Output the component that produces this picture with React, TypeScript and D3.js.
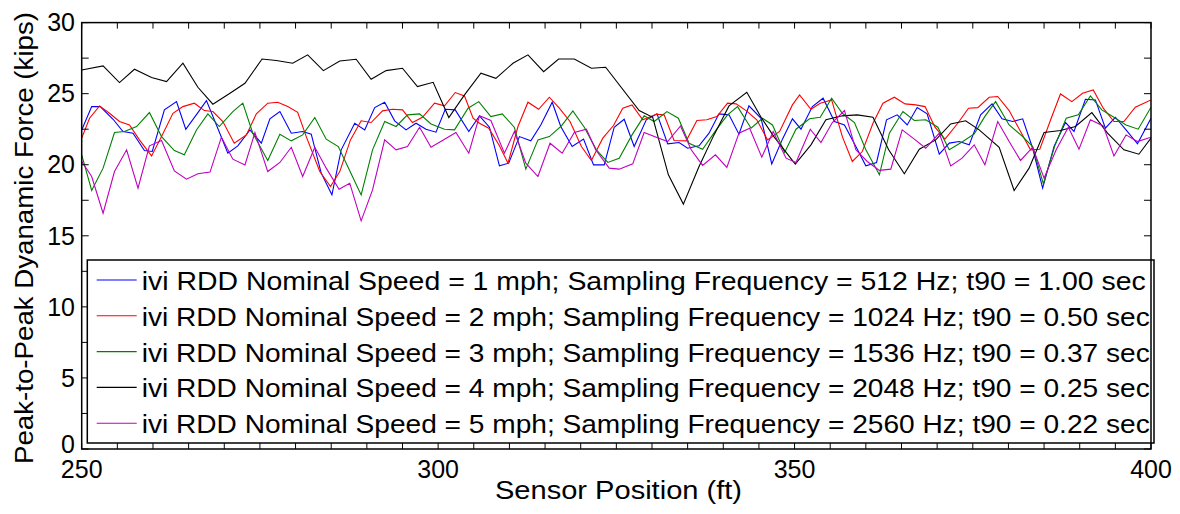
import React from 'react';
import * as d3 from 'd3';

type Pt = [number, number];

// [sensor position (ft), peak-to-peak dynamic force (kips)]
const speed1mph: Pt[] = [[250.0,22.45],[251.4,24.09],[252.6,24.09],[254.4,23.20],[255.8,22.34],[257.2,22.22],[258.8,21.00],[259.9,20.93],[261.6,23.86],[263.3,24.44],[264.6,22.50],[266.3,23.67],[267.5,24.51],[268.9,22.80],[270.5,20.81],[271.9,21.33],[273.6,22.45],[275.2,21.52],[276.4,23.23],[277.8,23.74],[279.4,22.22],[281.0,22.34],[282.2,22.15],[283.6,19.41],[285.1,17.88],[286.4,21.05],[288.3,22.92],[289.7,22.45],[291.1,24.02],[292.5,24.40],[293.9,23.09],[295.5,22.45],[296.9,22.92],[298.3,22.50],[299.7,22.29],[301.0,23.90],[302.4,23.86],[304.3,22.34],[305.8,23.44],[307.2,22.64],[308.6,19.92],[309.9,20.11],[311.4,21.98],[313.0,21.68],[314.4,22.80],[316.0,24.40],[317.2,22.69],[318.8,21.28],[320.4,21.80],[321.8,19.99],[323.3,19.99],[324.7,22.64],[326.1,23.20],[327.5,21.28],[329.2,23.16],[330.7,23.58],[332.2,21.47],[333.8,21.56],[335.0,21.16],[336.6,21.33],[338.0,22.22],[339.4,23.58],[340.8,23.51],[342.2,22.15],[343.6,24.14],[345.3,23.27],[346.8,20.06],[348.3,21.80],[349.7,23.23],[350.9,22.50],[352.5,24.09],[354.0,24.68],[355.6,23.04],[357.0,22.80],[358.6,21.28],[360.0,19.92],[361.5,20.16],[362.9,23.16],[364.4,23.51],[365.8,22.80],[367.2,24.02],[368.6,23.58],[370.3,20.74],[371.7,21.52],[373.1,21.63],[374.5,21.40],[376.1,23.51],[377.7,24.28],[379.1,23.23],[380.6,23.04],[382.0,23.23],[383.4,21.16],[384.8,18.35],[386.4,21.28],[388.0,22.97],[389.2,22.34],[390.8,24.61],[392.2,24.56],[393.6,22.57],[395.0,23.34],[396.5,22.45],[398.1,21.47],[400.0,23.27]];

const speed2mph: Pt[] = [[250.0,21.87],[251.1,23.27],[252.5,24.14],[253.9,23.62],[255.3,23.04],[256.7,22.80],[258.1,21.75],[259.8,20.62],[261.2,21.98],[262.8,23.62],[264.2,24.09],[265.8,24.33],[267.2,23.81],[268.4,23.74],[269.8,23.04],[271.4,21.51],[273.1,22.10],[274.5,23.58],[276.1,24.33],[277.5,24.40],[278.9,24.09],[280.3,23.69],[281.5,21.98],[283.4,19.52],[284.9,18.47],[286.2,19.52],[287.7,21.75],[289.2,23.09],[290.6,22.97],[292.2,23.79],[293.6,23.90],[295.0,23.86],[296.4,22.97],[297.8,23.34],[299.5,24.33],[300.9,24.14],[302.4,25.08],[303.7,24.84],[304.9,23.27],[305.8,22.92],[307.1,22.57],[308.6,21.33],[309.8,20.11],[311.2,22.69],[312.6,24.40],[314.1,23.90],[315.6,24.75],[317.0,23.98],[318.5,23.04],[320.1,21.28],[321.5,20.30],[323.1,21.87],[324.6,22.76],[325.9,23.98],[327.2,24.21],[328.7,23.16],[330.6,23.55],[331.7,23.51],[333.1,21.70],[334.8,21.68],[336.3,23.11],[337.7,23.16],[339.1,23.39],[340.6,24.33],[341.8,24.28],[343.2,23.81],[344.7,23.16],[346.2,21.75],[347.9,22.34],[349.7,24.21],[350.7,24.91],[352.3,23.90],[353.6,24.33],[355.2,24.56],[356.7,21.98],[358.1,20.23],[359.5,20.93],[361.0,22.92],[362.4,24.33],[364.0,24.75],[365.5,24.28],[367.0,24.21],[368.3,24.09],[369.7,22.64],[371.1,21.80],[372.9,22.92],[374.4,23.98],[375.7,24.02],[377.3,24.75],[378.5,24.80],[380.1,23.81],[381.7,22.34],[383.1,21.05],[384.4,21.09],[386.0,23.27],[387.3,24.98],[388.9,24.44],[390.4,25.03],[391.9,25.26],[393.3,23.98],[394.8,23.04],[396.2,23.04],[397.8,24.05],[400.0,24.56]];

const speed3mph: Pt[] = [[250.0,20.70],[251.4,18.19],[253.0,19.76],[254.6,22.27],[256.0,22.34],[257.7,22.69],[259.5,23.67],[261.2,21.98],[263.0,21.00],[264.4,20.70],[266.1,22.45],[267.7,23.58],[269.3,22.69],[271.2,23.74],[272.6,24.33],[274.0,22.22],[276.1,20.30],[277.8,22.15],[279.4,21.68],[281.0,22.10],[282.7,23.32],[284.3,21.80],[286.0,21.28],[287.6,19.57],[289.2,17.88],[290.8,21.05],[292.5,23.04],[294.1,22.69],[295.7,23.51],[297.4,23.58],[299.0,22.87],[300.9,22.50],[302.3,22.45],[304.2,23.98],[305.7,24.44],[307.4,23.39],[309.0,23.58],[310.7,22.62],[312.3,19.69],[314.0,21.75],[315.6,21.98],[317.3,22.73],[318.9,23.79],[320.5,22.64],[322.2,21.05],[323.8,20.16],[325.4,20.46],[327.2,22.10],[328.9,23.44],[330.3,23.04],[332.1,23.74],[333.7,23.27],[335.2,21.51],[337.1,21.09],[339.0,22.45],[340.6,23.51],[342.0,24.09],[343.9,22.57],[345.5,23.27],[346.9,22.80],[348.6,20.86],[350.2,22.50],[352.1,23.23],[353.6,23.34],[355.2,24.68],[356.7,23.62],[358.4,22.97],[360.0,21.05],[361.9,19.29],[363.3,22.22],[365.2,23.74],[366.8,23.11],[368.4,23.16],[370.1,22.64],[371.7,21.05],[373.6,21.63],[375.2,22.17],[376.7,23.40],[378.2,24.44],[380.1,22.80],[382.0,21.98],[383.4,21.28],[384.9,18.66],[386.5,21.33],[388.1,23.27],[389.8,23.51],[391.5,24.84],[393.1,23.86],[394.8,23.34],[396.5,22.80],[398.2,22.50],[400.0,24.05]];

const speed4mph: Pt[] = [[250.0,26.67],[253.0,26.95],[255.3,25.78],[257.4,26.72],[259.8,26.13],[261.9,25.85],[264.2,27.14],[266.3,25.45],[268.4,24.26],[270.8,25.03],[272.9,25.73],[275.3,27.44],[277.3,27.33],[279.6,27.14],[281.7,27.73],[283.9,26.62],[286.2,27.30],[288.5,27.42],[290.6,26.01],[292.7,26.62],[295.0,26.79],[297.1,25.50],[299.3,25.80],[301.5,23.32],[303.7,24.91],[306.0,26.44],[308.1,26.08],[310.5,27.14],[312.6,27.73],[314.8,26.55],[316.9,27.44],[319.1,27.44],[321.5,26.79],[323.5,26.86],[328.2,23.81],[330.1,23.34],[332.3,19.29],[334.4,17.23],[336.6,19.87],[338.7,22.10],[340.8,24.14],[343.3,25.10],[345.3,23.34],[347.1,21.98],[350.1,20.05],[352.3,21.40],[354.4,23.16],[356.7,23.44],[358.8,23.51],[361.0,23.34],[363.2,21.05],[365.4,19.36],[367.5,21.09],[369.8,21.75],[371.9,22.87],[374.0,23.09],[375.9,22.45],[378.7,21.23],[380.8,18.19],[382.9,19.76],[385.0,22.27],[387.3,22.41],[389.4,22.69],[391.7,23.67],[393.9,22.22],[396.2,21.05],[398.3,20.74],[400.0,21.87]];

const speed5mph: Pt[] = [[250.0,20.23],[251.4,19.17],[253.0,16.59],[254.6,19.52],[256.3,21.05],[257.9,18.35],[259.5,21.33],[261.2,21.70],[263.0,19.57],[264.7,18.98],[266.3,19.36],[268.0,19.48],[269.6,21.94],[271.2,20.39],[272.9,19.99],[274.3,22.27],[276.1,19.52],[277.8,20.16],[279.4,21.23],[281.0,19.17],[282.7,21.23],[284.3,19.76],[286.1,18.28],[287.6,18.70],[289.2,16.05],[290.8,18.23],[292.5,21.75],[294.1,21.05],[295.7,21.28],[297.4,22.64],[299.0,21.23],[302.5,22.27],[304.3,20.81],[305.8,23.44],[307.4,23.11],[309.3,20.81],[310.7,22.34],[312.3,20.11],[314.0,19.17],[315.7,21.51],[317.4,20.81],[319.1,22.27],[320.8,22.50],[322.1,21.05],[324.0,19.76],[325.4,19.69],[327.3,20.06],[328.9,22.27],[330.6,21.94],[332.2,21.63],[334.0,22.73],[335.5,21.05],[337.1,19.95],[338.9,20.70],[340.5,19.81],[342.2,22.22],[343.7,22.57],[345.4,20.53],[347.0,22.34],[348.8,20.46],[350.2,20.16],[352.2,22.50],[353.7,21.56],[355.3,22.97],[357.0,23.81],[358.6,21.05],[360.2,20.23],[361.9,19.60],[363.5,19.69],[365.1,22.45],[366.8,21.80],[368.4,21.16],[370.3,22.22],[371.9,19.92],[373.5,20.46],[375.2,21.40],[376.7,19.99],[378.5,23.04],[380.1,21.63],[381.7,20.30],[383.4,21.23],[385.0,19.06],[386.7,21.05],[388.4,22.64],[389.9,21.09],[391.5,23.16],[393.3,22.73],[394.8,20.62],[396.5,22.10],[398.1,21.63],[400.0,21.94]];

const seriesLabels: string[] = [
  'ivi RDD Nominal Speed = 1 mph; Sampling Frequency = 512 Hz; t90 = 1.00 sec',
  'ivi RDD Nominal Speed = 2 mph; Sampling Frequency = 1024 Hz; t90 = 0.50 sec',
  'ivi RDD Nominal Speed = 3 mph; Sampling Frequency = 1536 Hz; t90 = 0.37 sec',
  'ivi RDD Nominal Speed = 4 mph; Sampling Frequency = 2048 Hz; t90 = 0.25 sec',
  'ivi RDD Nominal Speed = 5 mph; Sampling Frequency = 2560 Hz; t90 = 0.22 sec',
];
const seriesColors: string[] = ['#0000ff', '#ff0000', '#008000', '#000000', '#bf00bf'];
const seriesData: Pt[][] = [speed1mph, speed2mph, speed3mph, speed4mph, speed5mph];

const yTickLabels: number[] = [0, 5, 10, 15, 20, 25, 30];
const xTickLabels: number[] = [250, 300, 350, 400];
const xAxisTitle = 'Sensor Position (ft)';
const yAxisTitle = 'Peak-to-Peak Dyanamic Force (kips)';

const FONT = '"Liberation Sans", Arial, Helvetica, sans-serif';

export default function App() {
  const W = 1180, H = 514;
  const left = 81.7, right = 1151, top = 22.6, bottom = 449;
  const x = d3.scaleLinear().domain([250, 400]).range([left, right]);
  const y = d3.scaleLinear().domain([0, 30]).range([bottom, top]);
  const line = d3.line<Pt>().x(d => x(d[0])).y(d => y(d[1]));
  const yMinor = d3.range(0, 30.001, 2.5);
  const xMinor = d3.range(250, 400.001, 5);

  const legL = 87.3, legR = 1154, legT = 260, legB = 443;
  const rowY0 = 280, rowStep = 35.8;

  return (
    <svg width={W} height={H} viewBox={`0 0 ${W} ${H}`}
      style={{ position: 'absolute', left: 0, top: 0, background: '#fff' }}
      fontFamily={FONT}>
      <rect x={0} y={0} width={W} height={H} fill="#fff" />
      <defs>
        <clipPath id="plotclip">
          <rect x={left} y={top} width={right - left} height={bottom - top} />
        </clipPath>
      </defs>

      {/* series lines */}
      <g clipPath="url(#plotclip)">
        {seriesData.map((d, i) => (
          <path key={i} d={line(d) || ''} fill="none" stroke={seriesColors[i]} strokeWidth={1.1} strokeLinejoin="miter" />
        ))}
      </g>

      {/* ticks */}
      <g stroke="#000" strokeWidth={1}>
        {yMinor.map(v => (
          <g key={'y' + v}>
            <line x1={left} x2={left + 7} y1={y(v)} y2={y(v)} />
            <line x1={right} x2={right - 7} y1={y(v)} y2={y(v)} />
          </g>
        ))}
        {xMinor.map(v => (
          <g key={'x' + v}>
            <line x1={x(v)} x2={x(v)} y1={bottom} y2={bottom - 6} />
            <line x1={x(v)} x2={x(v)} y1={top} y2={top + 6} />
          </g>
        ))}
      </g>

      {/* legend */}
      <rect x={legL} y={legT} width={legR - legL} height={legB - legT} fill="#fff" stroke="#000" strokeWidth={1.5} />
      {seriesLabels.map((lab, i) => {
        const yy = rowY0 + i * rowStep;
        return (
          <g key={'leg' + i}>
            <line x1={96.7} x2={136.7} y1={yy} y2={yy} stroke={seriesColors[i]} strokeWidth={1.1} />
            <text x={141.7} y={yy + 10} fontSize={25.5} fill="#000"
              textLength={i === 0 ? 1004 : 1008} lengthAdjust="spacingAndGlyphs">{lab}</text>
          </g>
        );
      })}

      {/* axes box */}
      <rect x={left} y={top} width={right - left} height={bottom - top} fill="none" stroke="#000" strokeWidth={1.5} />

      {/* tick labels */}
      {yTickLabels.map(v => (
        <text key={'yl' + v} x={75} y={y(v) - (v === 0 ? 5 : 0)} dy="0.35em" textAnchor="end" fontSize={25} fill="#000">{v}</text>
      ))}
      {xTickLabels.map(v => (
        <text key={'xl' + v} x={x(v)} y={478} textAnchor="middle" fontSize={25} fill="#000">{v}</text>
      ))}

      {/* axis titles */}
      <text x={618.5} y={499} textAnchor="middle" fontSize={25} fill="#000"
        textLength={247} lengthAdjust="spacingAndGlyphs">{xAxisTitle}</text>
      <text transform="translate(33,238) rotate(-90)" x={0} y={0} textAnchor="middle" fontSize={25} fill="#000"
        textLength={452} lengthAdjust="spacingAndGlyphs">{yAxisTitle}</text>
    </svg>
  );
}
